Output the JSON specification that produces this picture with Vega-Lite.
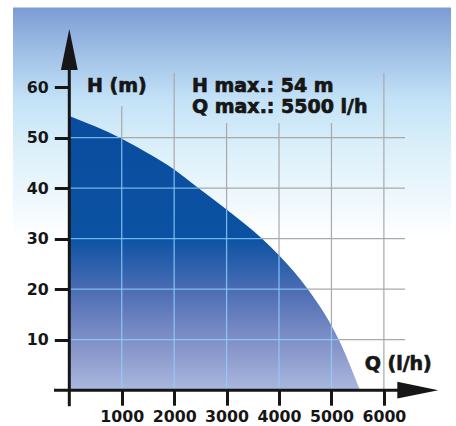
{
  "$schema": "https://vega.github.io/schema/vega-lite/v6.json",
  "width": 456,
  "height": 426,
  "autosize": {"type": "none"},
  "padding": 0,
  "background": "#ffffff",
  "config": {
    "view": {"stroke": null}
  },
  "datasets": {
    "curve": [
      {"q": 0, "h": 54.3},
      {"q": 500, "h": 52.2},
      {"q": 1000, "h": 49.8},
      {"q": 1500, "h": 46.9},
      {"q": 2000, "h": 43.7},
      {"q": 2467, "h": 40},
      {"q": 3000, "h": 35.8},
      {"q": 3677, "h": 30},
      {"q": 4000, "h": 26.7},
      {"q": 4550, "h": 20},
      {"q": 5000, "h": 12.8},
      {"q": 5140, "h": 10},
      {"q": 5545, "h": 0}
    ],
    "bg": [{"q0": -1074, "q1": 7281, "h0": 75.8, "h1": -7.09}],
    "vgrid": [
      {"q": 1000, "h0": 0, "h1": 56.3},
      {"q": 2000, "h0": 0, "h1": 62.8},
      {"q": 3000, "h0": 0, "h1": 52.9},
      {"q": 4000, "h0": 0, "h1": 52.9},
      {"q": 5000, "h0": 0, "h1": 52.9},
      {"q": 6000, "h0": 0, "h1": 62.8}
    ],
    "hgrid": [
      {"h": 10, "q0": 0, "q1": 6403},
      {"h": 20, "q0": 0, "q1": 6403},
      {"h": 30, "q0": 0, "q1": 6403},
      {"h": 40, "q0": 0, "q1": 6403},
      {"h": 50, "q0": 0, "q1": 6403}
    ],
    "vgridIn": [
      {"q": 1000, "h0": 0, "h1": 49.8},
      {"q": 2000, "h0": 0, "h1": 43.7},
      {"q": 3000, "h0": 0, "h1": 35.8},
      {"q": 4000, "h0": 0, "h1": 26.7},
      {"q": 5000, "h0": 0, "h1": 12.8}
    ],
    "hgridIn": [
      {"h": 10, "q0": 0, "q1": 5140},
      {"h": 20, "q0": 0, "q1": 4550},
      {"h": 30, "q0": 0, "q1": 3677},
      {"h": 40, "q0": 0, "q1": 2467},
      {"h": 50, "q0": 0, "q1": 960}
    ],
    "axisV": [{"q": 0, "h0": -3.19, "h1": 63.5}],
    "axisH": [{"h": 0, "q0": -292, "q1": 6269}],
    "arrowUp": [{"q": 0, "h": 67.47}],
    "arrowRight": [{"q": 6647, "h": 0}],
    "labels": [
      {"text": "H (m)", "q": 338, "h": 59.1},
      {"text": "H max.: 54 m", "q": 2340, "h": 59.1},
      {"text": "Q max.: 5500 l/h", "q": 2340, "h": 54.83},
      {"text": "Q (l/h)", "q": 5634, "h": 3.94}
    ]
  },
  "layer": [
    {
      "data": {"name": "bg"},
      "mark": {
        "type": "rect",
        "color": {
          "gradient": "linear",
          "x1": 0, "y1": 0, "x2": 0, "y2": 1,
          "stops": [
            {"offset": 0, "color": "#7b9cd3"},
            {"offset": 0.1, "color": "#9dbde5"},
            {"offset": 0.22, "color": "#c3e2f7"},
            {"offset": 0.34, "color": "#dcf0fa"},
            {"offset": 0.46, "color": "#eff8fd"},
            {"offset": 0.55, "color": "#ffffff"},
            {"offset": 1, "color": "#ffffff"}
          ]
        }
      },
      "encoding": {
        "x": {"field": "q0", "type": "quantitative", "scale": {"domain": [-1321.8, 7375.5], "nice": false, "zero": false},
          "axis": {"values": [1000, 2000, 3000, 4000, 5000, 6000], "format": "d", "offset": -35.8, "labelPadding": 4.5, "zindex": 2,
            "labelFont": "DejaVu Sans", "labelFontWeight": "bold", "labelFontSize": 15.8, "labelColor": "#161616",
            "tickColor": "#161616", "tickWidth": 3, "tickSize": 15, "domain": false, "grid": false, "title": null, "labelFlush": false, "labelOverlap": false}},
        "x2": {"field": "q1"},
        "y": {"field": "h0", "type": "quantitative", "scale": {"domain": [-7.09, 77.27], "nice": false, "zero": false},
          "axis": {"values": [10, 20, 30, 40, 50, 60], "format": "d", "offset": -69.3, "labelPadding": 6, "zindex": 2,
            "labelFont": "DejaVu Sans", "labelFontWeight": "bold", "labelFontSize": 15.8, "labelColor": "#161616",
            "tickColor": "#161616", "tickWidth": 3, "tickSize": 15, "domain": false, "grid": false, "title": null, "labelFlush": false, "labelOverlap": false}},
        "y2": {"field": "h1"}
      }
    },
    {
      "data": {"name": "vgrid"},
      "mark": {"type": "rule", "color": "#a9a9a9", "strokeWidth": 1.2},
      "encoding": {
        "x": {"field": "q", "type": "quantitative"},
        "y": {"field": "h0", "type": "quantitative"},
        "y2": {"field": "h1"}
      }
    },
    {
      "data": {"name": "hgrid"},
      "mark": {"type": "rule", "color": "#a9a9a9", "strokeWidth": 1.2},
      "encoding": {
        "x": {"field": "q0", "type": "quantitative"},
        "x2": {"field": "q1"},
        "y": {"field": "h", "type": "quantitative"}
      }
    },
    {
      "data": {"name": "curve"},
      "mark": {
        "type": "area",
        "interpolate": "monotone",
        "color": {
          "gradient": "linear",
          "x1": 0, "y1": 0, "x2": 0, "y2": 1,
          "stops": [
            {"offset": 0, "color": "#0a4c9e"},
            {"offset": 0.445, "color": "#0b52a3"},
            {"offset": 0.63, "color": "#4a6cb3"},
            {"offset": 0.818, "color": "#8090c6"},
            {"offset": 1, "color": "#aab7de"}
          ]
        }
      },
      "encoding": {
        "x": {"field": "q", "type": "quantitative"},
        "y": {"field": "h", "type": "quantitative"}
      }
    },
    {
      "data": {"name": "vgridIn"},
      "mark": {"type": "rule", "color": "#8fd0ff", "opacity": 0.8, "strokeWidth": 1.3},
      "encoding": {
        "x": {"field": "q", "type": "quantitative"},
        "y": {"field": "h0", "type": "quantitative"},
        "y2": {"field": "h1"}
      }
    },
    {
      "data": {"name": "hgridIn"},
      "mark": {"type": "rule", "color": "#8fd0ff", "opacity": 0.8, "strokeWidth": 1.3},
      "encoding": {
        "x": {"field": "q0", "type": "quantitative"},
        "x2": {"field": "q1"},
        "y": {"field": "h", "type": "quantitative"}
      }
    },
    {
      "data": {"name": "axisV"},
      "mark": {"type": "rule", "color": "#161616", "strokeWidth": 3},
      "encoding": {
        "x": {"field": "q", "type": "quantitative"},
        "y": {"field": "h0", "type": "quantitative"},
        "y2": {"field": "h1"}
      }
    },
    {
      "data": {"name": "axisH"},
      "mark": {"type": "rule", "color": "#161616", "strokeWidth": 3},
      "encoding": {
        "x": {"field": "q0", "type": "quantitative"},
        "x2": {"field": "q1"},
        "y": {"field": "h", "type": "quantitative"}
      }
    },
    {
      "data": {"name": "arrowUp"},
      "mark": {"type": "point", "shape": "M0,-1L0.41,1L-0.41,1Z", "size": 1681, "filled": true, "color": "#161616", "opacity": 1, "strokeWidth": 0},
      "encoding": {
        "x": {"field": "q", "type": "quantitative"},
        "y": {"field": "h", "type": "quantitative"}
      }
    },
    {
      "data": {"name": "arrowRight"},
      "mark": {"type": "point", "shape": "M1,0L-1,0.41L-1,-0.41Z", "size": 1681, "filled": true, "color": "#161616", "opacity": 1, "strokeWidth": 0},
      "encoding": {
        "x": {"field": "q", "type": "quantitative"},
        "y": {"field": "h", "type": "quantitative"}
      }
    },
    {
      "data": {"name": "labels"},
      "mark": {"type": "text", "font": "DejaVu Sans", "fontWeight": "bold", "fontSize": 19, "align": "left", "baseline": "alphabetic", "color": "#161616", "stroke": "#161616", "strokeWidth": 0.7},
      "encoding": {
        "x": {"field": "q", "type": "quantitative"},
        "y": {"field": "h", "type": "quantitative"},
        "text": {"field": "text", "type": "nominal"}
      }
    }
  ]
}
